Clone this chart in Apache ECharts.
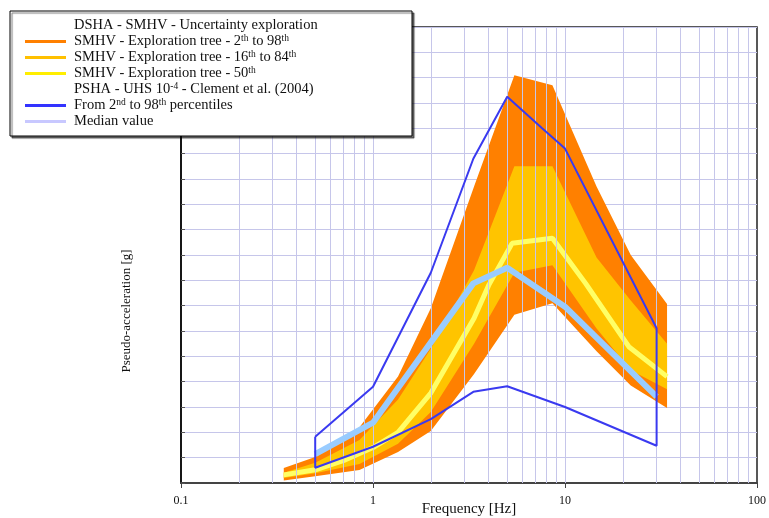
<!DOCTYPE html>
<html>
<head>
<meta charset="utf-8">
<script src="https://cdn.jsdelivr.net/npm/echarts@6/dist/echarts.min.js"></script>
<style>html,body{margin:0;padding:0;background:#fff}#c{width:769px;height:518px}</style>
</head>
<body>
<div id="c"></div>
<script>
// ---- Data (frequency in Hz, pseudo-acceleration in grid units) ----
const bandFreq      = [0.343, 0.5, 0.85, 1.35, 2.0, 3.36, 5.45, 8.6, 14.6, 22, 34];
const orangeUpper   = [0.59, 1.03, 2.2, 4.2, 6.9, 11.7, 16.1, 15.7, 11.7, 9.0, 7.07];
const orangeLower   = [0.1, 0.27, 0.51, 1.22, 2.05, 4.3, 6.64, 7.1, 5.2, 3.85, 2.96];
const goldUpper     = [0.4, 0.8, 1.7, 3.3, 5.3, 8.4, 12.5, 12.5, 8.9, 7.2, 5.5];
const goldLower     = [0.2, 0.38, 0.75, 1.55, 2.8, 5.5, 8.3, 8.6, 6.1, 4.45, 3.7];
const medianFreq    = [0.343, 0.5, 0.7, 1.0, 1.35, 2.0, 3.36, 4.0, 5.3, 8.6, 12.8, 21.5, 34];
const medianVal     = [0.32, 0.52, 0.88, 1.4, 2.0, 3.55, 6.5, 7.8, 9.46, 9.66, 7.88, 5.38, 4.2];
const uhsFreq       = [0.5, 1, 2, 3.33, 5, 7.6, 10, 30];
const uhs98         = [1.83, 3.8, 8.3, 12.8, 15.25, 14.0, 13.2, 6.11];
const uhs2Freq      = [0.5, 1, 2, 3.33, 5, 10, 30];
const uhs2          = [0.6, 1.43, 2.52, 3.6, 3.82, 3.0, 1.47];
const uhsMedFreq    = [0.5, 1, 3.33, 5, 10, 30];
const uhsMedian     = [1.14, 2.38, 7.88, 8.5, 6.96, 3.41];
const gridFreqs     = [0.2,0.3,0.4,0.5,0.6,0.7,0.8,0.9,1,2,3,4,5,6,7,8,9,10,20,30,40,50,60,70,80,90];

const serif = '"Liberation Serif","Times New Roman",serif';
const chart = echarts.init(document.getElementById('c'), null, {renderer:'canvas'});

function band(name, up, lo, color, z) {
  const pts = bandFreq.map((f,i)=>[f, up[i]]).concat(bandFreq.map((f,i)=>[f, lo[i]]).reverse());
  return {
    type:'custom', name, coordinateSystem:'cartesian2d', data:[[1,1]], z, silent:true,
    renderItem:(params, api)=>({type:'polygon', shape:{points: pts.map(p=>api.coord(p))}, style:{fill:color}})
  };
}
const pair = (xs, ys) => xs.map((x,i)=>[x, ys[i]]);
const uhsLoop = pair(uhsFreq, uhs98).concat(pair(uhs2Freq, uhs2).reverse()).concat([[uhsFreq[0], uhs98[0]]]);

const legendRows = [
  {t:'DSHA - SMHV - Uncertainty exploration', c:null},
  {t:'SMHV - Exploration tree - 2{s|th} to 98{s|th}', c:'#ff8000'},
  {t:'SMHV - Exploration tree - 16{s|th} to 84{s|th}', c:'#ffc000'},
  {t:'SMHV - Exploration tree - 50{s|th}', c:'#ffee00'},
  {t:'PSHA - UHS 10{s|-4} - Clement et al. (2004)', c:null},
  {t:'From 2{s|nd} to 98{s|th} percentiles', c:'#3333ff'},
  {t:'Median value', c:'#c8c8ff'}
];
const rowY = [25, 41.5, 57.5, 73.5, 89.5, 105.5, 121.5];
const legendEls = [{type:'rect', shape:{x:10, y:11, width:402, height:125},
  style:{fill:'#fff', stroke:'#000', lineWidth:1, shadowColor:'rgba(0,0,0,0.55)', shadowOffsetX:2, shadowOffsetY:2, shadowBlur:1}, z:100}];
legendRows.forEach((r,i)=>{
  if (r.c) legendEls.push({type:'line', shape:{x1:25,y1:rowY[i],x2:66,y2:rowY[i]}, style:{stroke:r.c, lineWidth:3}, z:101});
  legendEls.push({type:'text', x:74, y:rowY[i], z:101, style:{text:r.t, fontFamily:serif, fontSize:14.5, fill:'#111',
    verticalAlign:'middle', align:'left', lineHeight:16,
    rich:{s:{fontSize:9.5, fontFamily:serif, verticalAlign:'top', lineHeight:16, fill:'#111'}}}});
});
legendEls.push({type:'text', x:127, y:311, rotation:Math.PI/2, z:50,
  style:{text:'Pseudo-acceleration [g]', fontFamily:serif, fontSize:13, fill:'#111', align:'center', verticalAlign:'middle'}});

chart.setOption({
  animation:false,
  backgroundColor:'#fff',
  grid:{left:181, right:12, top:27, bottom:35, show:true, borderColor:'#222', borderWidth:1.5,
    backgroundColor:'transparent', containLabel:false, outerBoundsMode:'none'},
  xAxis:{type:'log', logBase:10, min:0.1, max:100,
    name:'Frequency [Hz]', nameLocation:'middle', nameGap:19, nameMoveOverlap:false,
    nameTextStyle:{fontFamily:serif, fontSize:15, color:'#111'},
    axisLine:{lineStyle:{color:'#444', width:2}},
    axisTick:{show:true, inside:false, length:5, lineStyle:{color:'#444'}},
    axisLabel:{fontFamily:serif, fontSize:12, color:'#111', margin:12,
      formatter:v=> (v<1? v.toFixed(1): String(Math.round(v)))},
    splitLine:{show:false}},
  yAxis:{type:'value', min:0, max:18, interval:1,
    axisLine:{show:true, lineStyle:{color:'#000', width:1.5}},
    axisTick:{show:true, inside:true, length:4, lineStyle:{color:'#555'}},
    axisLabel:{show:false},
    splitLine:{show:true, lineStyle:{color:'#c6c6ea', width:1}}},
  graphic:legendEls,
  series:[
    {type:'line', name:'grid', data:[], z:1, silent:true,
      markLine:{silent:true, symbol:['none','none'], label:{show:false},
        lineStyle:{color:'#c6c6ea', type:'solid', width:1},
        data: gridFreqs.map(f=>({xAxis:f}))}},
    band('SMHV 2th-98th', orangeUpper, orangeLower, '#ff8000', 2),
    band('SMHV 16th-84th', goldUpper, goldLower, '#ffc400', 3),
    {type:'line', name:'SMHV 50th', data:pair(medianFreq, medianVal), z:4, symbol:'none',
      lineStyle:{color:'#ffff66', width:5}},
    {type:'line', name:'Median value', data:pair(uhsMedFreq, uhsMedian), z:5, symbol:'none',
      lineStyle:{color:'#99ccff', width:6}},
    {type:'line', name:'From 2nd to 98th percentiles', data:uhsLoop, z:6, symbol:'none',
      lineStyle:{color:'#3a3af0', width:2}}
  ]
});
</script>
</body>
</html>
